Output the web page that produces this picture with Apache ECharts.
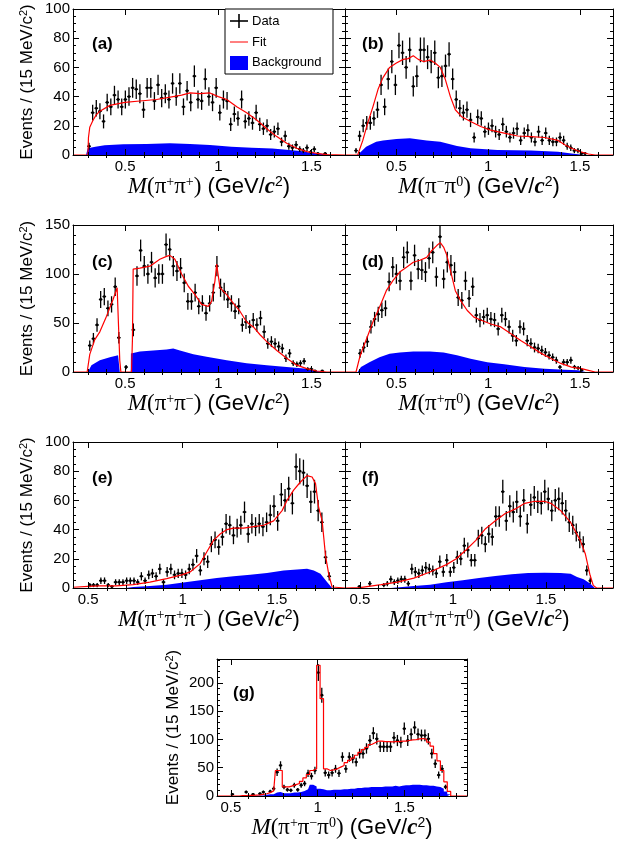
<!DOCTYPE html>
<html><head><meta charset="utf-8">
<script src="https://cdn.jsdelivr.net/npm/echarts@6/dist/echarts.min.js"></script>
<style>html,body{margin:0;padding:0;background:#fff}#c{width:634px;height:842px}</style>
</head><body><div id="c"></div>
<script>
// ---------------- DATA ----------------
const xMajorTicks = [0.5, 1, 1.5];
const xMinorLow = [0.3,0.4,0.6,0.7,0.8,0.9,1.1,1.2,1.3,1.4,1.6];
const xMinorHigh = [0.6,0.7,0.8,0.9,1.1,1.2,1.3,1.4,1.6,1.7,1.8];

// (a) M(pi+ pi+)
const startA = 0.306, widthA = 0.0195;
const dataA = [6,29,32,30,23,36,33,41,38,33,38,40,46,45,42,31,46,46,37,48,39,42,38,49,40,49,33,44,36,54,38,37,52,40,36,46,29,38,37,21,28,25,38,23,25,22,29,21,18,20,14,16,18,9,13,6,5,7,4,3,5,2,4,1,0,1];
const fitA = [[0.22,0],[0.300,0],[0.303,12],[0.310,19],[0.328,24],[0.345,27.5],[0.364,30],[0.418,34],[0.498,36],[0.579,37],[0.668,38],[0.758,40],[0.803,41],[0.848,42.5],[0.901,42],[0.955,42.5],[1.0,40],[1.045,38],[1.099,33],[1.152,29],[1.206,24],[1.26,18],[1.314,12.6],[1.367,8],[1.421,4.6],[1.475,2.3],[1.529,1.1],[1.582,0.2],[1.68,0]];
const bkgA = [[0.29,0],[0.299,4.6],[0.34,5.7],[0.39,6.7],[0.49,7.4],[0.615,7.6],[0.74,8],[0.848,7.6],[0.955,6.9],[1.07,5.7],[1.18,5],[1.29,4.4],[1.38,3.4],[1.44,2.8],[1.5,1.6],[1.56,0.7],[1.6,0]];

// (b) M(pi- pi0)
const startB = 0.28, widthB = 0.0195;
const dataB = [3,13,20,22,22,25,31,48,33,52,64,48,75,70,60,72,47,54,72,72,67,64,70,53,54,61,69,52,38,32,29,31,24,12,26,25,16,18,20,16,14,21,16,12,15,18,10,15,17,12,9,16,10,15,10,9,9,12,10,6,5,3,3,1,1];
const fitB = [[0.22,0],[0.289,0],[0.317,10],[0.344,22],[0.372,33],[0.40,45],[0.427,53],[0.463,60],[0.50,63],[0.537,65.5],[0.564,66],[0.592,68],[0.619,65.5],[0.647,64],[0.683,65],[0.711,63],[0.739,60],[0.766,52],[0.794,40],[0.821,31],[0.858,26],[0.904,23],[0.959,19.5],[1.014,17],[1.087,15],[1.161,13],[1.234,12.6],[1.307,12],[1.381,10],[1.417,7],[1.454,4.6],[1.5,2.3],[1.546,0.7],[1.583,0],[1.68,0]];
const bkgB = [[0.289,0],[0.307,2.3],[0.335,5.7],[0.39,9],[0.427,10],[0.5,11],[0.573,11.5],[0.665,10],[0.739,9],[0.83,6.2],[0.904,4.6],[1.05,3.4],[1.234,3],[1.38,2.3],[1.454,1.1],[1.49,0.5],[1.527,0]];

// (c) M(pi+ pi-)
const startC = 0.31, widthC = 0.0195;
const dataC = [27,34,48,74,77,65,69,87,35,0,5,0,43,98,124,108,100,112,96,100,100,130,125,108,103,106,91,72,72,81,67,70,60,70,81,108,86,82,74,70,62,67,48,51,46,53,48,55,41,29,31,29,26,24,14,19,9,8,9,11,3,3,1,0,1];
const fitC = [[0.22,0],[0.296,0],[0.31,18],[0.337,33],[0.364,41],[0.40,57],[0.435,74],[0.457,86],[0.466,84],[0.471,12],[0.477,0],[0.534,0],[0.539,33],[0.543,105],[0.579,106],[0.633,108],[0.686,115],[0.722,118],[0.74,119],[0.767,115],[0.803,100],[0.839,87.5],[0.875,79],[0.91,69],[0.946,67],[0.964,72],[0.982,93],[0.991,110],[1.0,98],[1.009,86],[1.045,79],[1.081,70],[1.116,62],[1.152,51],[1.188,46],[1.224,38],[1.26,31],[1.314,22],[1.367,14],[1.421,7],[1.475,3.4],[1.529,1],[1.582,0],[1.68,0]];
const bkgC = [[0.30,0],[0.319,7],[0.364,12],[0.418,15],[0.462,17],[0.47,17],[0.471,0],[0.530,0],[0.531,19],[0.579,21],[0.65,22],[0.722,23],[0.758,24],[0.794,22],[0.866,18],[0.937,15.5],[1.045,12],[1.152,9],[1.26,7],[1.367,5],[1.475,3.4],[1.53,1],[1.57,0]];

// (d) M(pi+ pi0)
const startD = 0.302, widthD = 0.0198;
const dataD = [19,25,31,46,54,59,63,65,92,107,100,93,117,122,93,119,105,104,102,116,122,97,138,95,112,109,102,76,73,93,75,87,58,53,56,58,54,53,44,58,54,46,37,32,46,44,32,29,25,24,22,20,17,15,12,5,10,10,12,5,4,2];
const fitD = [[0.22,0],[0.28,0],[0.30,15],[0.317,24],[0.344,37],[0.372,51],[0.408,66],[0.445,83],[0.482,93.5],[0.518,102],[0.555,107],[0.592,112],[0.628,114],[0.665,117],[0.693,124],[0.72,129],[0.739,132],[0.757,127.5],[0.775,119],[0.794,104],[0.821,83],[0.849,73],[0.885,63],[0.922,56],[0.959,53],[1.014,49],[1.069,46],[1.124,39],[1.179,32],[1.234,25.5],[1.289,19],[1.344,13.6],[1.399,8.5],[1.454,5],[1.509,3.4],[1.546,1.7],[1.583,0],[1.68,0]];
const bkgD = [[0.289,0],[0.307,5],[0.353,10],[0.408,15],[0.463,18.7],[0.518,20],[0.592,21],[0.683,21],[0.757,20],[0.83,17],[0.904,13.6],[0.995,10],[1.087,8],[1.197,5],[1.307,3.4],[1.417,2.4],[1.49,1.7],[1.53,0]];

// (e) M(pi+ pi+ pi-)
const startE = 0.509, widthE = 0.0195;
const dataE = [2,2,2,5,5,2,1,4,4,4,5,5,5,4,8,5,9,10,8,13,4,11,13,9,10,10,9,13,16,22,12,20,18,30,33,28,35,44,43,36,41,43,52,37,44,42,44,42,45,50,56,46,64,60,68,58,83,80,79,70,59,66,53,45,21,8];
const fitE = [[0.42,0.5],[0.5,1.1],[0.562,1.4],[0.65,1.4],[0.739,2.3],[0.827,4],[0.916,6.4],[0.996,9],[1.04,11],[1.093,16.7],[1.128,24.7],[1.164,32.6],[1.199,37],[1.235,40],[1.27,41],[1.323,41],[1.376,42],[1.43,43],[1.482,46],[1.527,53],[1.553,60],[1.588,67],[1.624,72.6],[1.659,77],[1.686,76],[1.704,71.5],[1.72,55.5],[1.739,46],[1.757,22],[1.775,8.7],[1.792,0.7],[1.80,0],[1.86,0]];
const bkgE = [[0.70,0],[0.739,0.7],[0.827,1.4],[0.916,2.3],[1.004,3.7],[1.093,5.3],[1.181,6.8],[1.27,8],[1.358,9],[1.447,10.3],[1.535,12],[1.624,12.8],[1.659,13.2],[1.695,12],[1.73,9.8],[1.766,4],[1.792,0]];

// (f) M(pi+ pi+ pi0)
const startF = 0.497, widthF = 0.0188;
const dataF = [1,0,0,3,0,0,0,2,3,6,4,5,6,6,3,13,11,10,12,14,13,12,10,18,11,19,11,14,21,20,29,26,19,19,34,36,30,37,35,49,49,66,46,56,52,59,49,60,44,57,62,59,58,66,61,53,60,61,58,53,45,43,38,33,30,12,5];
const fitF = [[0.42,0],[0.5,0.2],[0.614,2.3],[0.702,4],[0.79,6.8],[0.877,11],[0.965,16],[1.018,20],[1.07,26],[1.123,32.6],[1.175,40.6],[1.228,46],[1.281,51],[1.333,54],[1.386,58],[1.439,59.4],[1.491,59.4],[1.526,58],[1.579,53],[1.632,45],[1.684,32.6],[1.711,23.5],[1.737,8.7],[1.754,1.8],[1.772,0],[1.86,0]];
const bkgF = [[0.667,0],[0.79,1.4],[0.877,2.3],[0.965,4],[1.053,5.3],[1.14,6.8],[1.228,8.2],[1.316,9.4],[1.404,10.3],[1.491,10.5],[1.579,10.3],[1.632,9.8],[1.667,7.5],[1.702,6],[1.737,3],[1.763,0]];

// (g) M(pi+ pi- pi0)
const startG = 0.489, widthG = 0.0198;
const dataG = [0,3,0,0,0,7,0,3,0,4,7,0,8,13,42,54,16,11,10,19,11,19,22,40,35,45,218,178,41,37,41,48,40,69,48,69,66,60,75,75,84,98,111,101,87,87,87,87,103,98,95,119,98,109,121,109,107,107,101,75,57,37,48,16];
const fitG = [0,0,0,0,0.5,0.5,1,1,1.5,2,3,4,6,9,45,45,16,16,18,20,22,26,32,38,45,48,231,172,48,45,46,48,51,54,59,63,67,72,77,82,86,91,94,97,97,96,96,95.5,96,96,97,97,98,99,99.5,101,101.5,100,95,88,75,62,45,25,8,0];
const bkgG = [0,0,0,0,0,0,0,0,0.5,1,1,2,3,3,6,7,5,5,5,6,6,7,9,12,20,17,13,12,10,10,11,11,11,12,12,13,13,14,14,15,15,16,16,16,16,17,17,17,18,17,18,19,19,20,20,20,19,19,18,18,17,16,13,8,3,0];

// ---------------- LAYOUT / STYLE ----------------
const bins = (start, width, vals) => vals.map((v, i) => [+(start + i * width).toFixed(4), v]);

const richX = {
  m:{fontFamily:'Liberation Serif', fontStyle:'italic', fontSize:23, color:'#000'},
  p:{fontFamily:'Liberation Serif', fontSize:23, color:'#000'},
  sp:{fontFamily:'Liberation Serif', fontSize:14, color:'#000', padding:[0,0,11,0]},
  n:{fontFamily:'Liberation Sans', fontSize:22, color:'#000'},
  c:{fontFamily:'Liberation Serif', fontStyle:'italic', fontWeight:'bold', fontSize:23, color:'#000'},
  s2:{fontFamily:'Liberation Sans', fontSize:14, color:'#000', padding:[0,0,11,0]}
};
const richY = {
  e:{fontFamily:'Liberation Sans', fontSize:17, color:'#000'},
  s:{fontFamily:'Liberation Sans', fontSize:11, color:'#000', padding:[0,0,8,0]}
};
function massTitle(sups){
  return '{m|M}{p|(}' + sups.map(s => '{p|π}{sp|' + s + '}').join('') + '{p|)}{n| (GeV/}{c|c}{s2|2}{n|)}';
}
const yTitle = '{e|Events / (15 MeV/c}{s|2}{e|)}';

const panels = [
  {lab:'(a)', grid:[73,9,272,146], x:[0.22,1.68], y:[0,100,20,4], yLab:true, minor:xMinorLow, name:massTitle(['+','+']), xGap:19,
   data:bins(startA,widthA,dataA), w:widthA, fit:fitA, bkg:bkgA, labPos:[92,46]},
  {lab:'(b)', grid:[345,9,268,146], x:[0.22,1.68], y:[0,100,20,4], yLab:false, minor:xMinorLow, name:massTitle(['\u2212','0']), xGap:19,
   data:bins(startB,widthB,dataB), w:widthB, fit:fitB, bkg:bkgB, labPos:[362,46]},
  {lab:'(c)', grid:[73,225,272,147], x:[0.22,1.68], y:[0,150,50,5], yLab:true, minor:xMinorLow, name:massTitle(['+','\u2212']), xGap:19,
   data:bins(startC,widthC,dataC), w:widthC, fit:fitC, bkg:bkgC, labPos:[92,264]},
  {lab:'(d)', grid:[345,225,268,147], x:[0.22,1.68], y:[0,150,50,5], yLab:false, minor:xMinorLow, name:massTitle(['+','0']), xGap:19,
   data:bins(startD,widthD,dataD), w:widthD, fit:fitD, bkg:bkgD, labPos:[362,264]},
  {lab:'(e)', grid:[73,442,272,146], x:[0.42,1.86], y:[0,100,20,4], yLab:true, minor:xMinorHigh, name:massTitle(['+','+','\u2212']), xGap:19,
   data:bins(startE,widthE,dataE), w:widthE, fit:fitE, bkg:bkgE, labPos:[92,480]},
  {lab:'(f)', grid:[345,442,268,146], x:[0.42,1.86], y:[0,100,20,4], yLab:false, minor:xMinorHigh, name:massTitle(['+','+','0']), xGap:19,
   data:bins(startF,widthF,dataF), w:widthF, fit:fitF, bkg:bkgF, labPos:[362,480]},
  {lab:'(g)', grid:[217,659,250,137], x:[0.42,1.86], y:[0,242,50,5], yLab:true, minor:xMinorHigh, name:massTitle(['+','\u2212','0']), xGap:13,
   data:bins(startG,widthG,dataG), w:widthG,
   fit:[[0.42,0]].concat(bins(startG,widthG,fitG), [[1.86,0]]), bkg:bins(startG,widthG,bkgG), step:true, labPos:[233,695]}
];

const black = '#000';
const grids = [], xAxes = [], yAxes = [], series = [], graphics = [];

panels.forEach((p, gi) => {
  grids.push({left:p.grid[0], top:p.grid[1], width:p.grid[2], height:p.grid[3], outerBoundsMode:'none', containLabel:false});
  const xb = {gridIndex:gi, type:'value', min:p.x[0], max:p.x[1], z:10, splitLine:{show:false},
    axisLine:{show:true, onZero:false, lineStyle:{color:black, width:1}}};
  const major = {show:true, inside:true, length:6, customValues:xMajorTicks, lineStyle:{color:black, width:1}};
  const minor = {show:true, inside:true, length:3, customValues:p.minor, lineStyle:{color:black, width:1}};
  xAxes.push(Object.assign({}, xb, {position:'bottom', axisTick:major,
    axisLabel:{show:true, customValues:xMajorTicks, margin:4, color:black, fontSize:15, fontFamily:'Liberation Sans'},
    name:p.name, nameLocation:'middle', nameGap:p.xGap, nameTextStyle:{rich:richX}}));
  xAxes.push(Object.assign({}, xb, {position:'bottom', axisLine:{show:false}, axisTick:minor, axisLabel:{show:false}}));
  xAxes.push(Object.assign({}, xb, {position:'top', axisTick:major, axisLabel:{show:false}}));
  xAxes.push(Object.assign({}, xb, {position:'top', axisLine:{show:false}, axisTick:minor, axisLabel:{show:false}}));

  const yb = {gridIndex:gi, type:'value', min:p.y[0], max:p.y[1], interval:p.y[2], z:10, splitLine:{show:false},
    axisLine:{show:true, onZero:false, lineStyle:{color:black, width:1}},
    axisTick:{show:true, inside:true, length:6, lineStyle:{color:black, width:1}},
    minorTick:{show:true, splitNumber:p.y[3], length:3, lineStyle:{color:black, width:1}}};
  yAxes.push(Object.assign({}, yb, {position:'left',
    axisLabel:{show:p.yLab, margin:3, color:black, fontSize:15, fontFamily:'Liberation Sans', showMaxLabel: p.y[1] % p.y[2] === 0},
    name:p.yLab ? yTitle : '', nameLocation:'middle', nameRotate:90, nameGap: gi === 6 ? 34 : 36, nameTextStyle:{rich:richY}}));
  yAxes.push(Object.assign({}, yb, {position:'right', axisLabel:{show:false}}));

  const xi = 4 * gi, yi = 2 * gi;
  series.push({type:'line', xAxisIndex:xi, yAxisIndex:yi, data:p.bkg, step:p.step ? 'middle' : false,
    symbol:'none', showSymbol:false, lineStyle:{width:0, color:'#0000ff'}, areaStyle:{color:'#0000ff', opacity:1},
    z:1, silent:true, clip:true});
  const w = p.w;
  series.push({type:'custom', xAxisIndex:xi, yAxisIndex:yi, clip:true, z:3, silent:true,
    data:p.data.filter(d => d[1] > 0),
    encode:{x:0, y:1},
    renderItem:(params, api) => {
      const x = api.value(0), y = api.value(1), e = Math.sqrt(y);
      const c = api.coord([x, y]);
      const l = api.coord([x - w / 2, y]), r = api.coord([x + w / 2, y]);
      const lo = api.coord([x, Math.max(0, y - e)]), hi = api.coord([x, y + e]);
      return {type:'group', children:[
        {type:'line', shape:{x1:lo[0], y1:lo[1], x2:hi[0], y2:hi[1]}, style:{stroke:black, lineWidth:1.3}},
        {type:'line', shape:{x1:l[0], y1:l[1], x2:r[0], y2:r[1]}, style:{stroke:black, lineWidth:1.3}},
        {type:'circle', shape:{cx:c[0], cy:c[1], r:1.4}, style:{fill:black}}
      ]};
    }});
  series.push({type:'line', xAxisIndex:xi, yAxisIndex:yi, data:p.fit, step:p.step ? 'middle' : false,
    symbol:'none', showSymbol:false, lineStyle:{width:1.2, color:'#ff0000'}, z:4, silent:true, clip:true});

  graphics.push({type:'text', left:p.labPos[0], top:p.labPos[1] - 10, z:100,
    style:{text:p.lab, font:'bold 17px "Liberation Sans"', fill:black}});
});

// legend (panel a)
graphics.push(
  {type:'rect', shape:{x:225, y:9, width:108, height:65}, style:{fill:'#fff', stroke:black, lineWidth:1}, z:100},
  {type:'line', shape:{x1:239, y1:14, x2:239, y2:28}, style:{stroke:black, lineWidth:1.6}, z:101},
  {type:'line', shape:{x1:230, y1:21, x2:248, y2:21}, style:{stroke:black, lineWidth:1.6}, z:101},
  {type:'line', shape:{x1:230, y1:42, x2:248, y2:42}, style:{stroke:'#ff0000', lineWidth:1}, z:101},
  {type:'rect', shape:{x:230, y:56, width:18, height:14}, style:{fill:'#0000ff'}, z:101},
  {type:'text', x:252, y:21, style:{text:'Data', font:'13px "Liberation Sans"', fill:black, textVerticalAlign:'middle', verticalAlign:'middle'}, z:101},
  {type:'text', x:252, y:42, style:{text:'Fit', font:'13px "Liberation Sans"', fill:black, textVerticalAlign:'middle', verticalAlign:'middle'}, z:101},
  {type:'text', x:252, y:62, style:{text:'Background', font:'13px "Liberation Sans"', fill:black, textVerticalAlign:'middle', verticalAlign:'middle'}, z:101}
);

const chart = echarts.init(document.getElementById('c'), null, {renderer:'canvas', width:634, height:842});
chart.setOption({
  animation:false,
  backgroundColor:'#fff',
  textStyle:{fontFamily:'Liberation Sans'},
  grid:grids, xAxis:xAxes, yAxis:yAxes, series:series, graphic:graphics
});
</script></body></html>
